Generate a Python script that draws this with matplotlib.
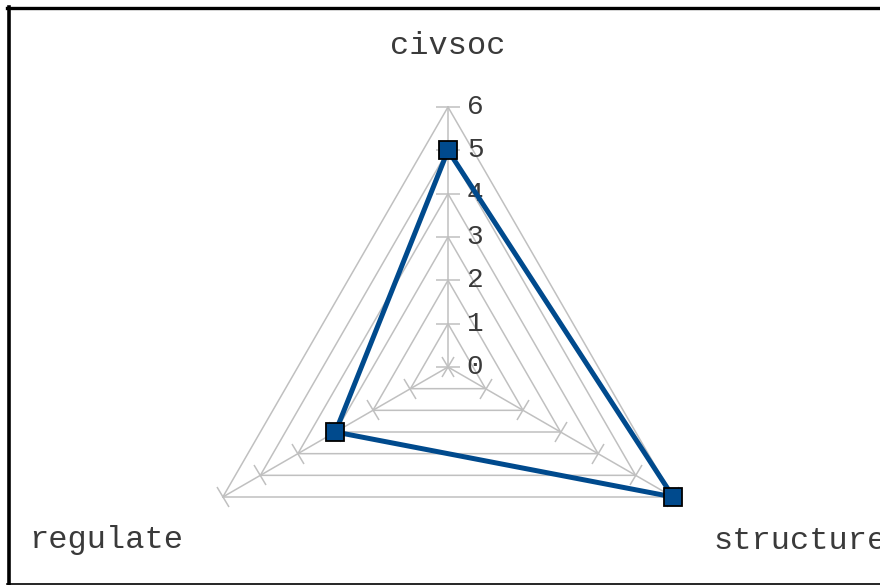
import numpy as np
import matplotlib
matplotlib.use("Agg")
import matplotlib.pyplot as plt
from matplotlib.markers import MarkerStyle
from matplotlib.transforms import Affine2D
from matplotlib.lines import Line2D

# data
categories = ["civsoc", "structure", "regulate"]
values = [5, 6, 3]
levels = [0, 1, 2, 3, 4, 5, 6]
tick_labels = ["0", "1", "2", "3", "4", "5", "6"]

GRID = "#C0C0C0"
SERIES = "#004A8D"
TEXT = "#3A3A3A"
FONT = "Liberation Mono"

W, H = 880, 585
fig = plt.figure(figsize=(W / 100, H / 100), dpi=100)

# centre of the web at (448, 367) px from top-left, r=6 -> 260 px
cx, cy, rad = 448, 367, 260
ax = fig.add_axes([(cx - rad) / W, (H - cy - rad) / H, 2 * rad / W, 2 * rad / H],
                  projection="polar")
ax.set_theta_zero_location("N")
ax.set_theta_direction(-1)
ax.set_ylim(0, max(levels))
ax.grid(False)
ax.set_xticks([])
ax.set_yticks([])
ax.spines["polar"].set_visible(False)
ax.patch.set_alpha(0)

n = len(categories)
theta = np.arange(n) * 2 * np.pi / n
closed = np.append(theta, theta[0])

# polygon grid
for lv in levels[1:]:
    ax.plot(closed, [lv] * (n + 1), color=GRID, lw=1.1, clip_on=False, zorder=1)

# spokes + tick marks
for t in theta:
    ax.plot([t, t], [0, max(levels)], color=GRID, lw=1.1, clip_on=False, zorder=1)
    rot = 180 - np.degrees(t)
    m = MarkerStyle("_", transform=Affine2D().rotate_deg(rot))
    ax.plot([t] * len(levels), levels, ls="none", marker=m, ms=17, mew=1.1,
            color=GRID, clip_on=False, zorder=1)

# value labels on first axis
for lv, lab in zip(levels, tick_labels):
    ax.annotate(lab, (theta[0], lv), xytext=(13.5, 0), textcoords="offset points",
                ha="left", va="center", fontsize=20, family=FONT, color=TEXT,
                annotation_clip=False, zorder=2)

# series
vals = np.append(values, values[0])
ax.plot(closed, vals, color=SERIES, lw=3.6, clip_on=False, zorder=3)
ax.plot(theta, values, ls="none", marker="s", ms=13, mfc=SERIES, mec="black",
        mew=1.3, clip_on=False, zorder=4)

# category labels
offsets = [(0, 44), (29, -32), (-84, -31)]
aligns = ["center", "left", "center"]
for t, cat, off, ha in zip(theta, categories, offsets, aligns):
    ax.annotate(cat, (t, max(levels)), xytext=off, textcoords="offset points",
                ha=ha, va="center", fontsize=23, family=FONT, color=TEXT,
                annotation_clip=False)

# frame of the cropped chart area
fig.add_artist(Line2D([7 / W, 1], [1 - 7.5 / H] * 2, color="black", lw=2.4,
                      transform=fig.transFigure))
fig.add_artist(Line2D([9 / W] * 2, [1 - 7 / H, 1.5 / H], color="black", lw=2.6,
                      transform=fig.transFigure))
fig.add_artist(Line2D([7 / W, 1], [1.5 / H] * 2, color="black", lw=1.2,
                      transform=fig.transFigure))

fig.savefig("out.png", dpi=100)
